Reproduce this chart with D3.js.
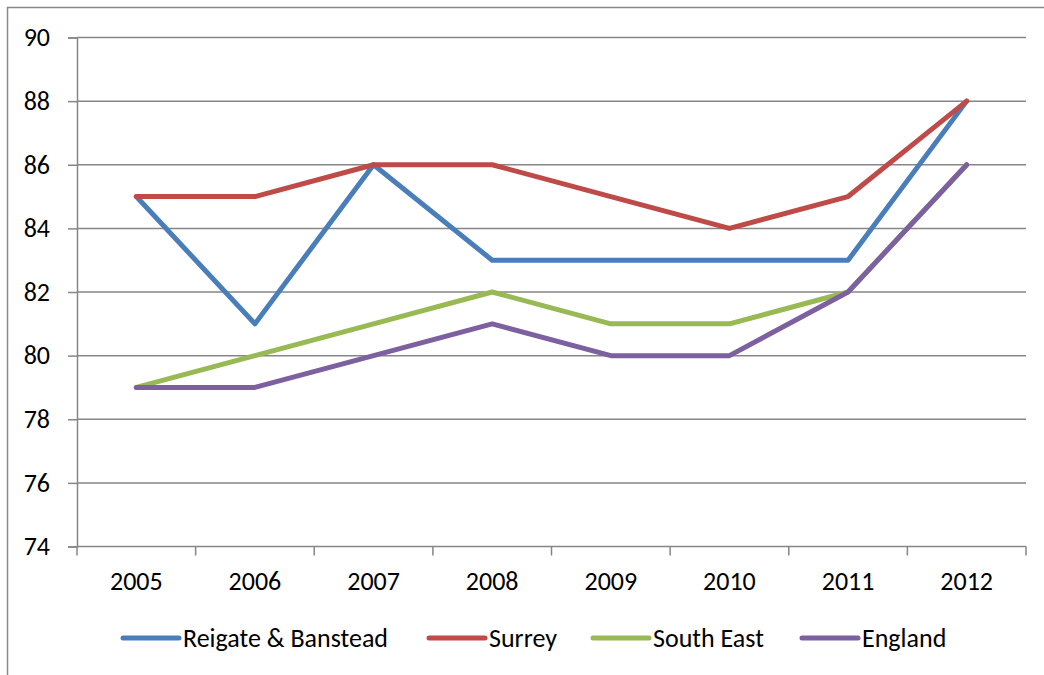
<!DOCTYPE html>
<html>
<head>
<meta charset="utf-8">
<script src="https://cdn.jsdelivr.net/npm/d3@7"></script>
<style>
  html, body { margin: 0; padding: 0; background: #fff; }
  svg { display: block; font-family: Carlito, Calibri, Lato, sans-serif; }
</style>
</head>
<body>
<svg id="chart" width="1044" height="675"></svg>
<script>
// Annual values by area, 2005–2012
const years = ["2005", "2006", "2007", "2008", "2009", "2010", "2011", "2012"];
const reigateBanstead = [85, 81, 86, 83, 83, 83, 83, 88];
const surrey          = [85, 85, 86, 86, 85, 84, 85, 88];
const southEast       = [79, 80, 81, 82, 81, 81, 82, 86];
const england         = [79, 79, 80, 81, 80, 80, 82, 86];
const yTicks = [74, 76, 78, 80, 82, 84, 86, 88, 90];

const seriesNames = ["Reigate & Banstead", "Surrey", "South East", "England"];
const seriesValues = [reigateBanstead, surrey, southEast, england];
const seriesColors = ["#4A7EBB", "#BE4B48", "#98B954", "#7D60A0"];

const series = seriesNames.map((name, i) => ({
  name,
  color: seriesColors[i],
  values: years.map((y, j) => ({ year: y, value: seriesValues[i][j] }))
}));

const FONT_SIZE = 26;
const svg = d3.select("#chart");
const plot = { left: 77, right: 1026, top: 37.5, bottom: 546.5 };

// Outer chart frame
svg.append("rect")
  .attr("x", 7.5).attr("y", 7.5)
  .attr("width", 1060).attr("height", 700)
  .attr("fill", "none").attr("stroke", "#898989").attr("stroke-width", 1.5);

const x = d3.scaleBand().domain(years).range([plot.left, plot.right]).padding(0);
const y = d3.scaleLinear().domain([74, 90]).range([plot.bottom, plot.top]);

// Horizontal gridlines
svg.append("g")
  .selectAll("line")
  .data(yTicks.filter(t => t !== 74))
  .join("line")
  .attr("x1", plot.left).attr("x2", plot.right)
  .attr("y1", d => y(d)).attr("y2", d => y(d))
  .attr("stroke", "#868686").attr("stroke-width", 1.5);

// Y axis
const yAxis = svg.append("g")
  .attr("transform", `translate(${plot.left},0)`)
  .call(d3.axisLeft(y).tickValues(yTicks).tickSize(9).tickPadding(18).tickFormat(d3.format("d")));
yAxis.select(".domain").attr("stroke", "#868686").attr("stroke-width", 1.5);
yAxis.selectAll(".tick line").attr("stroke", "#868686").attr("stroke-width", 1.5);
yAxis.selectAll(".tick text")
  .attr("font-size", FONT_SIZE).attr("fill", "#000")
  .attr("font-family", "Carlito, Calibri, Lato, sans-serif");

// X axis: ticks on category boundaries, labels centred in bands
const xAxis = svg.append("g").attr("transform", `translate(0,${plot.bottom})`);
xAxis.append("line")
  .attr("x1", plot.left).attr("x2", plot.right)
  .attr("stroke", "#868686").attr("stroke-width", 1.5);
const boundaries = years.map(d => x(d)).concat([x(years[years.length - 1]) + x.bandwidth()]);
xAxis.selectAll("line.tick")
  .data(boundaries)
  .join("line")
  .attr("class", "tick")
  .attr("x1", d => d).attr("x2", d => d)
  .attr("y1", 0).attr("y2", 9)
  .attr("stroke", "#868686").attr("stroke-width", 1.5);
xAxis.selectAll("text")
  .data(years)
  .join("text")
  .attr("x", d => x(d) + x.bandwidth() / 2)
  .attr("y", 43)
  .attr("text-anchor", "middle")
  .attr("font-size", FONT_SIZE)
  .attr("fill", "#000")
  .text(d => d);

// Series lines
const line = d3.line()
  .x(d => x(d.year) + x.bandwidth() / 2)
  .y(d => y(d.value));

svg.append("g")
  .selectAll("path")
  .data(series)
  .join("path")
  .attr("d", d => line(d.values))
  .attr("fill", "none")
  .attr("stroke", d => d.color)
  .attr("stroke-width", 5)
  .attr("stroke-linejoin", "round")
  .attr("stroke-linecap", "round");

// Legend
const legendX = [123, 429, 593, 802];
const legend = svg.append("g").attr("transform", "translate(0,638)");
const items = legend.selectAll("g")
  .data(series)
  .join("g")
  .attr("transform", (d, i) => `translate(${legendX[i]},0)`);
items.append("line")
  .attr("x1", 0).attr("x2", 56)
  .attr("stroke", d => d.color)
  .attr("stroke-width", 5)
  .attr("stroke-linecap", "round");
items.append("text")
  .attr("x", 60)
  .attr("y", 9)
  .attr("font-size", FONT_SIZE)
  .attr("fill", "#000")
  .text(d => d.name);
</script>
</body>
</html>
